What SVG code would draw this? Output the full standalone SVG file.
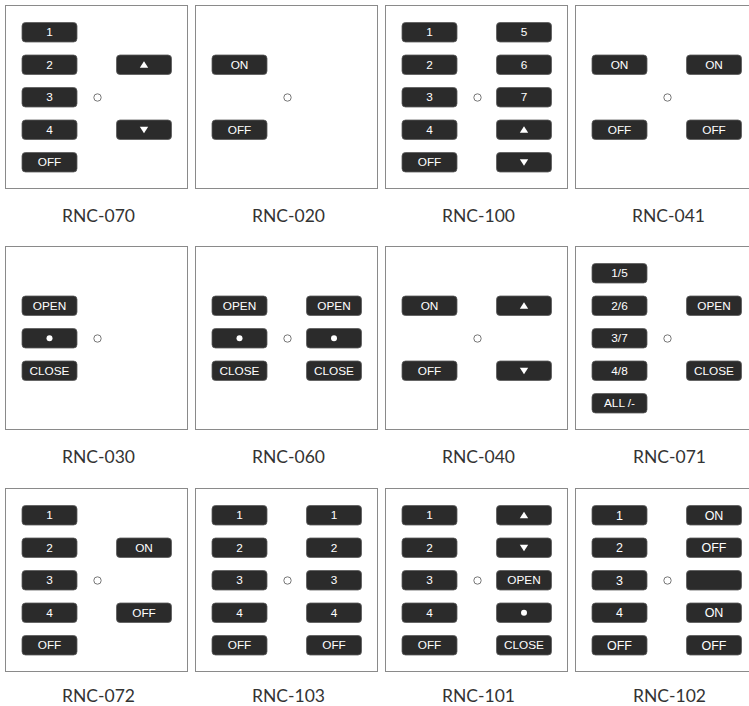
<svg xmlns="http://www.w3.org/2000/svg" xmlns:xlink="http://www.w3.org/1999/xlink" width="749" height="706" viewBox="0 0 749 706">
<style>
.p{fill:#fff;stroke:#8a8a8a;stroke-width:1}
.b{fill:#2b2b2b;stroke:#5a5a5a;stroke-width:0.8}
.t{fill:#fff;font-family:"Liberation Sans",Arial,sans-serif;font-size:11.8px;text-anchor:middle}
.t2{font-size:12.5px}
.l{fill:#333;font-family:Lato,"Open Sans",sans-serif;font-size:17.5px;text-anchor:middle}
.led{fill:#fff;stroke:#777;stroke-width:1}
.w{fill:#fff}
</style>
<defs>
<path id="up" class="w" d="M-4.2,3 L4.2,3 L0,-3.5Z"/>
<path id="dn" class="w" d="M-4.2,-3 L4.2,-3 L0,3.5Z"/>
<rect id="bl" class="b" x="16.5" width="55" height="19.5" rx="3.5"/>
<rect id="br" class="b" x="111" width="55" height="19.5" rx="3.5"/>
</defs>
<rect width="749" height="706" fill="#fff"/>

<g id="rnc070" transform="translate(5.5,5.5)">
<rect class="p" width="182" height="183"/>
<use href="#bl" y="17"/><text class="t" x="44" y="30.8">1</text>
<use href="#bl" y="49.5"/><text class="t" x="44" y="63.3">2</text>
<use href="#bl" y="82"/><text class="t" x="44" y="95.8">3</text>
<use href="#bl" y="114.5"/><text class="t" x="44" y="128.3">4</text>
<use href="#bl" y="147"/><text class="t" x="44" y="160.8">OFF</text>
<use href="#br" y="49.5"/><use href="#up" x="138.5" y="59.25"/>
<use href="#br" y="114.5"/><use href="#dn" x="138.5" y="124.25"/>
<circle class="led" cx="92" cy="92" r="3.7"/>
<text class="l" x="93" y="216">RNC-070</text>
</g>

<g id="rnc020" transform="translate(195.5,5.5)">
<rect class="p" width="182" height="183"/>
<use href="#bl" y="49.5"/><text class="t" x="44" y="63.3">ON</text>
<use href="#bl" y="114.5"/><text class="t" x="44" y="128.3">OFF</text>
<circle class="led" cx="92" cy="92" r="3.7"/>
<text class="l" x="93" y="216">RNC-020</text>
</g>

<g id="rnc100" transform="translate(385.5,5.5)">
<rect class="p" width="182" height="183"/>
<use href="#bl" y="17"/><text class="t" x="44" y="30.8">1</text>
<use href="#bl" y="49.5"/><text class="t" x="44" y="63.3">2</text>
<use href="#bl" y="82"/><text class="t" x="44" y="95.8">3</text>
<use href="#bl" y="114.5"/><text class="t" x="44" y="128.3">4</text>
<use href="#bl" y="147"/><text class="t" x="44" y="160.8">OFF</text>
<use href="#br" y="17"/><text class="t" x="138.5" y="30.8">5</text>
<use href="#br" y="49.5"/><text class="t" x="138.5" y="63.3">6</text>
<use href="#br" y="82"/><text class="t" x="138.5" y="95.8">7</text>
<use href="#br" y="114.5"/><use href="#up" x="138.5" y="124.25"/>
<use href="#br" y="147"/><use href="#dn" x="138.5" y="156.75"/>
<circle class="led" cx="92" cy="92" r="3.7"/>
<text class="l" x="93" y="216">RNC-100</text>
</g>

<g id="rnc041" transform="translate(575.5,5.5)">
<rect class="p" width="182" height="183"/>
<use href="#bl" y="49.5"/><text class="t" x="44" y="63.3">ON</text>
<use href="#bl" y="114.5"/><text class="t" x="44" y="128.3">OFF</text>
<use href="#br" y="49.5"/><text class="t" x="138.5" y="63.3">ON</text>
<use href="#br" y="114.5"/><text class="t" x="138.5" y="128.3">OFF</text>
<circle class="led" cx="92" cy="92" r="3.7"/>
<text class="l" x="93" y="216">RNC-041</text>
</g>

<g id="rnc030" transform="translate(5.5,246.5)">
<rect class="p" width="182" height="183"/>
<use href="#bl" y="49.5"/><text class="t" x="44" y="63.3">OPEN</text>
<use href="#bl" y="82"/><circle class="w" cx="44" cy="91.75" r="3"/>
<use href="#bl" y="114.5"/><text class="t" x="44" y="128.3">CLOSE</text>
<circle class="led" cx="92" cy="92" r="3.7"/>
<text class="l" x="93" y="216">RNC-030</text>
</g>

<g id="rnc060" transform="translate(195.5,246.5)">
<rect class="p" width="182" height="183"/>
<use href="#bl" y="49.5"/><text class="t" x="44" y="63.3">OPEN</text>
<use href="#bl" y="82"/><circle class="w" cx="44" cy="91.75" r="3"/>
<use href="#bl" y="114.5"/><text class="t" x="44" y="128.3">CLOSE</text>
<use href="#br" y="49.5"/><text class="t" x="138.5" y="63.3">OPEN</text>
<use href="#br" y="82"/><circle class="w" cx="138.5" cy="91.75" r="3"/>
<use href="#br" y="114.5"/><text class="t" x="138.5" y="128.3">CLOSE</text>
<circle class="led" cx="92" cy="92" r="3.7"/>
<text class="l" x="93" y="216">RNC-060</text>
</g>

<g id="rnc040" transform="translate(385.5,246.5)">
<rect class="p" width="182" height="183"/>
<use href="#bl" y="49.5"/><text class="t" x="44" y="63.3">ON</text>
<use href="#bl" y="114.5"/><text class="t" x="44" y="128.3">OFF</text>
<use href="#br" y="49.5"/><use href="#up" x="138.5" y="59.25"/>
<use href="#br" y="114.5"/><use href="#dn" x="138.5" y="124.25"/>
<circle class="led" cx="92" cy="92" r="3.7"/>
<text class="l" x="93" y="216">RNC-040</text>
</g>

<g id="rnc071" transform="translate(575.5,246.5)">
<rect class="p" width="182" height="183"/>
<use href="#bl" y="17"/><text class="t" x="44" y="30.8">1/5</text>
<use href="#bl" y="49.5"/><text class="t" x="44" y="63.3">2/6</text>
<use href="#bl" y="82"/><text class="t" x="44" y="95.8">3/7</text>
<use href="#bl" y="114.5"/><text class="t" x="44" y="128.3">4/8</text>
<use href="#bl" y="147"/><text class="t" x="44" y="160.8">ALL /-</text>
<use href="#br" y="49.5"/><text class="t" x="138.5" y="63.3">OPEN</text>
<use href="#br" y="114.5"/><text class="t" x="138.5" y="128.3">CLOSE</text>
<circle class="led" cx="92" cy="92" r="3.7"/>
<text class="l" x="94" y="216">RNC-071</text>
</g>

<g id="rnc072" transform="translate(5.5,488.5)">
<rect class="p" width="182" height="183"/>
<use href="#bl" y="17"/><text class="t" x="44" y="30.8">1</text>
<use href="#bl" y="49.5"/><text class="t" x="44" y="63.3">2</text>
<use href="#bl" y="82"/><text class="t" x="44" y="95.8">3</text>
<use href="#bl" y="114.5"/><text class="t" x="44" y="128.3">4</text>
<use href="#bl" y="147"/><text class="t" x="44" y="160.8">OFF</text>
<use href="#br" y="49.5"/><text class="t" x="138.5" y="63.3">ON</text>
<use href="#br" y="114.5"/><text class="t" x="138.5" y="128.3">OFF</text>
<circle class="led" cx="92" cy="92" r="3.7"/>
<text class="l" x="93" y="213.5">RNC-072</text>
</g>

<g id="rnc103" transform="translate(195.5,488.5)">
<rect class="p" width="182" height="183"/>
<use href="#bl" y="17"/><text class="t" x="44" y="30.8">1</text>
<use href="#bl" y="49.5"/><text class="t" x="44" y="63.3">2</text>
<use href="#bl" y="82"/><text class="t" x="44" y="95.8">3</text>
<use href="#bl" y="114.5"/><text class="t" x="44" y="128.3">4</text>
<use href="#bl" y="147"/><text class="t" x="44" y="160.8">OFF</text>
<use href="#br" y="17"/><text class="t" x="138.5" y="30.8">1</text>
<use href="#br" y="49.5"/><text class="t" x="138.5" y="63.3">2</text>
<use href="#br" y="82"/><text class="t" x="138.5" y="95.8">3</text>
<use href="#br" y="114.5"/><text class="t" x="138.5" y="128.3">4</text>
<use href="#br" y="147"/><text class="t" x="138.5" y="160.8">OFF</text>
<circle class="led" cx="92" cy="92" r="3.7"/>
<text class="l" x="93" y="213.5">RNC-103</text>
</g>

<g id="rnc101" transform="translate(385.5,488.5)">
<rect class="p" width="182" height="183"/>
<use href="#bl" y="17"/><text class="t" x="44" y="30.8">1</text>
<use href="#bl" y="49.5"/><text class="t" x="44" y="63.3">2</text>
<use href="#bl" y="82"/><text class="t" x="44" y="95.8">3</text>
<use href="#bl" y="114.5"/><text class="t" x="44" y="128.3">4</text>
<use href="#bl" y="147"/><text class="t" x="44" y="160.8">OFF</text>
<use href="#br" y="17"/><use href="#up" x="138.5" y="26.75"/>
<use href="#br" y="49.5"/><use href="#dn" x="138.5" y="59.25"/>
<use href="#br" y="82"/><text class="t" x="138.5" y="95.8">OPEN</text>
<use href="#br" y="114.5"/><circle class="w" cx="138.5" cy="124.25" r="3"/>
<use href="#br" y="147"/><text class="t" x="138.5" y="160.8">CLOSE</text>
<circle class="led" cx="92" cy="92" r="3.7"/>
<text class="l" x="93" y="213.5">RNC-101</text>
</g>

<g id="rnc102" transform="translate(575.5,488.5)">
<rect class="p" width="182" height="183"/>
<use href="#bl" y="17"/><text class="t t2" x="44" y="31">1</text>
<use href="#bl" y="49.5"/><text class="t t2" x="44" y="63.5">2</text>
<use href="#bl" y="82"/><text class="t t2" x="44" y="96">3</text>
<use href="#bl" y="114.5"/><text class="t t2" x="44" y="128.5">4</text>
<use href="#bl" y="147"/><text class="t t2" x="44" y="161">OFF</text>
<use href="#br" y="17"/><text class="t t2" x="138.5" y="31">ON</text>
<use href="#br" y="49.5"/><text class="t t2" x="138.5" y="63.5">OFF</text>
<use href="#br" y="82"/>
<use href="#br" y="114.5"/><text class="t t2" x="138.5" y="128.5">ON</text>
<use href="#br" y="147"/><text class="t t2" x="138.5" y="161">OFF</text>
<circle class="led" cx="92" cy="92" r="3.7"/>
<text class="l" x="94" y="213.5">RNC-102</text>
</g>
</svg>
